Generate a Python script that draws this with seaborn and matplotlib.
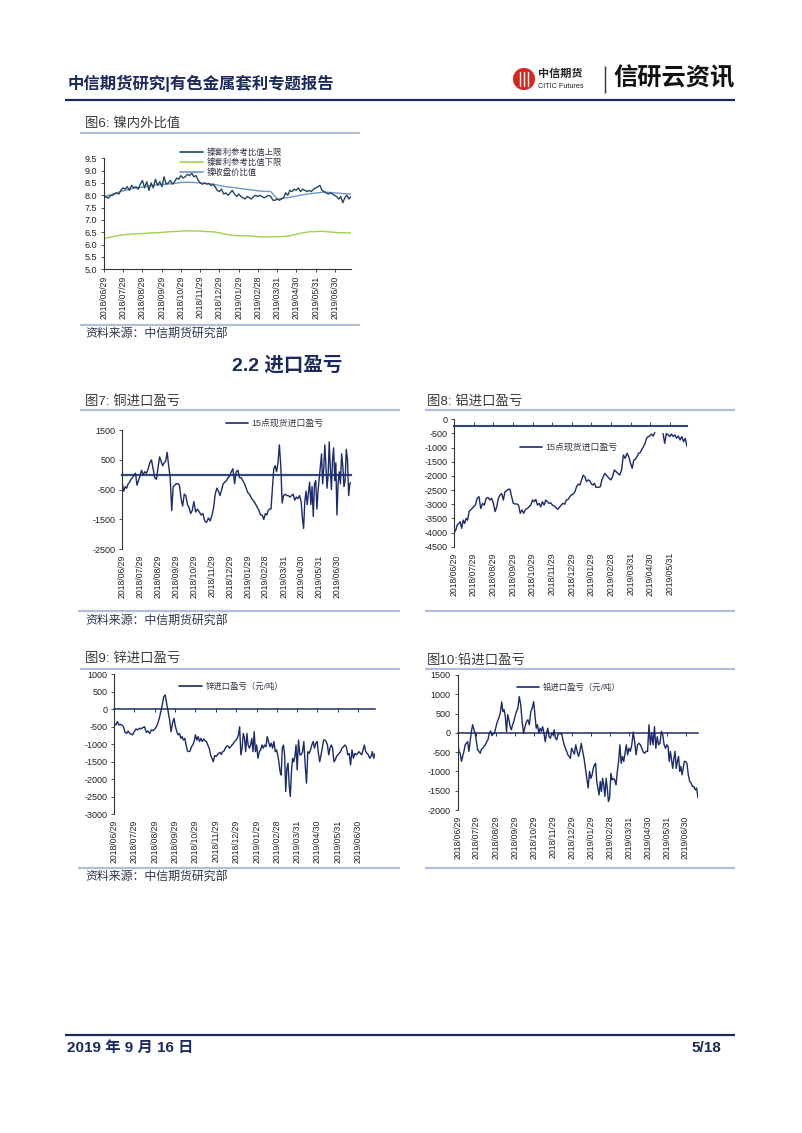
import numpy as np
import pandas as pd
import matplotlib
matplotlib.use("Agg")
import matplotlib.pyplot as plt
import matplotlib.dates as mdates
from matplotlib.lines import Line2D
from matplotlib.patches import Circle
import seaborn as sns

# ---------------------------------------------------------------- data
month_labels = ["2018/06/29", "2018/07/29", "2018/08/29", "2018/09/29", "2018/10/29",
                "2018/11/29", "2018/12/29", "2019/01/29", "2019/02/28", "2019/03/31",
                "2019/04/30", "2019/05/31", "2019/06/30"]
al_month_labels = month_labels[:12]
start_date = "2018/06/29"
ni_end, cu_end, al_end, zn_end, pb_end = "2019/07/26", "2019/07/24", "2019/06/27", "2019/07/26", "2019/07/20"

# values grouped by month (between two consecutive date labels)
ni_upper = [
    [7.90, 7.95, 7.88, 7.98, 8.00, 8.05, 8.10, 8.05, 8.20],
    [8.30, 8.25, 8.35, 8.20, 8.40, 8.30, 8.35, 8.25, 8.45],
    [8.60, 8.30, 8.55, 8.20, 8.50, 8.30, 8.65, 8.40, 8.55],
    [8.35, 8.75, 8.45, 8.50, 8.60, 8.45, 8.55, 8.70, 8.65],
    [8.80, 8.70, 8.75, 8.85, 8.80, 8.90, 8.75, 8.80, 8.60],
    [8.50, 8.45, 8.50, 8.45, 8.48, 8.40, 8.45, 8.35, 8.20],
    [8.15, 8.25, 8.05, 8.10, 8.00, 8.10, 8.20, 8.05, 7.95],
    [8.05, 7.95, 7.90, 7.85, 7.95, 7.90, 7.85, 7.95, 8.00],
    [7.95, 8.00, 7.95, 7.90, 7.95, 8.00, 7.95, 7.80, 7.80],
    [7.85, 7.80, 7.85, 7.90, 8.10, 8.00, 8.20, 8.15, 8.25],
    [8.20, 8.30, 8.15, 8.25, 8.20, 8.15, 8.20, 8.15, 8.25],
    [8.30, 8.35, 8.40, 8.20, 8.15, 8.10, 8.05, 8.10, 8.05],
    [8.00, 7.95, 7.85, 7.95, 7.70, 7.90, 8.00, 7.85, 7.95],
]
ni_lower = [
    [6.25, 6.30, 6.36], [6.40, 6.42, 6.44], [6.45, 6.47, 6.48], [6.50, 6.52, 6.53],
    [6.55, 6.56, 6.55], [6.55, 6.53, 6.52], [6.48, 6.42, 6.38], [6.36, 6.36, 6.35],
    [6.32, 6.31, 6.32], [6.32, 6.33, 6.36], [6.42, 6.48, 6.52], [6.53, 6.54, 6.52],
    [6.50, 6.48, 6.48, 6.47],
]
ni_close = [
    [7.95, 8.02, 8.10], [8.18, 8.25, 8.30], [8.33, 8.38, 8.42], [8.44, 8.46, 8.48],
    [8.52, 8.53, 8.52], [8.50, 8.48, 8.45], [8.40, 8.35, 8.32], [8.28, 8.25, 8.22],
    [8.18, 8.16, 8.15], [7.85, 7.88, 7.92], [7.97, 8.02, 8.06], [8.09, 8.12, 8.12],
    [8.10, 8.08, 8.06, 8.05],
]

cu_profit = [
    [-300, -550, -400, -450, -300, -250, -150, -100, 0, 50, -350, -200],
    [-50, 150, 0, 100, 50, 200, 400, 500, 200, -100, -150],
    [250, 600, 450, 300, 400, 450, 750, 300, -100, -1200, -400, -350],
    [-300, -300, -350, -800, -1050, -650, -700, -1000, -1100, -1300, -1200],
    [-900, -1250, -1150, -1250, -1350, -1300, -1550, -1600, -1450, -1550],
    [-1350, -1100, -650, -450, -550, -700, -500, -300, -250, -200, -100],
    [-50, 100, 200, -300, 100, 150, -100, -100, -200, -300, -450],
    [-600, -650, -750, -850, -900, -1000, -1100, -1200, -1350, -1350, -1500],
    [-1300, -1350, -1200, -1150, -1150, -500, 200, 300, 100, 400, 1000, 300, -950],
    [-700, -650, -700, -700, -750, -700, -650, -850, -750, -800, -700],
    [-900, -1450, -1800, -900, -550, -1000, -600, -250, -1000, -400, -1400, -300, -200, -1150, -500],
    [-100, 300, 700, -300, 200, 1000, 300, -450, 0, 1100, 200, -500, 500, 900, -200, 400],
    [-1350, -300, 100, -300, 700, 300, -400, -200, 850, 500, -700, -300, -250],
]

al_profit = [
    [-4000, -3910, -3730, -3680, -3620, -3850, -3560, -3680, -3500, -3560, -3260, -3200, -3150],
    [-3090, -3030, -2790, -2730, -3150, -2970, -3030, -2790, -2760, -2850, -2790],
    [-2970, -3260, -3090, -2790, -2670, -2620, -2850, -2560, -2520, -2470, -2470, -2730],
    [-2970, -2990, -2990, -3030, -3320, -3200, -3320, -3180, -3150, -3090, -3030],
    [-2850, -2910, -2830, -3030, -2970, -3090, -2910, -3030, -2850, -2910, -2970, -2950],
    [-3030, -3060, -3110, -3180, -3110, -3030, -2970, -3000, -2850, -2830, -2730],
    [-2670, -2640, -2560, -2380, -2290, -2320, -2140, -1970, -2030, -2200, -2140, -2170],
    [-2290, -2320, -2260, -2400, -2400, -2400, -2380, -2140, -2030, -1910, -1970, -2030, -2090],
    [-2140, -2030, -1790, -1850, -1910, -1970, -1790, -1260, -1380, -1200, -1320],
    [-1560, -1730, -1440, -1410, -1320, -1200, -1180, -1060, -970, -850, -670, -610],
    [-590, -520, -590, -470, np.nan, np.nan, np.nan, np.nan, -500, -850, -500, -550],
    [-610, -520, -610, -550, -670, -590, -730, -610, -790, -670, -970],
]

zn_profit = [
    [-400, -450, -350, -450, -430, -450, -500, -660, -690, -620, -690, -710, -730],
    [-640, -560, -590, -540, -560, -520, -500, -660, -620, -690, -590, -610],
    [-560, -500, -400, -260, -70, 120, 360, 410, 170, -70, -300, -640, -400, -260],
    [-500, -640, -730, -690, -830, -780, -880, -830, -1020, -1190, -1210, -1190, -1070, -1020, -920],
    [-730, -880, -780, -920, -830, -920, -850, -900, -920, -1020, -1110, -1300, -1400, -1500, -1320],
    [-1350, -1300, -1260, -1230, -1290, -1210, -1190, -1110, -1050, -1050, -1110, -1070, -1020, -980, -920],
    [-880, -830, -730, -500, -1300, -1110, -690, -830, -1210, -690, -1020, -1110, -1020, -830, -1210, -640, -1210],
    [-1020, -1400, -1210, -1160, -1020, -1110, -1020, -1070, -780, -920, -1070, -970, -1110, -920, -1210],
    [-1160, -1300, -1500, -1780, -1880, -1110, -1020, -1300, -2350, -1690, -1540, -2160, -2490, -1780, -1400, -1500, -1350, -1020],
    [-1730, -880, -1300, -1300, -1210, -920, -1590, -2110, -1210, -1260, -1160, -1020, -920, -1110, -970],
    [-920, -1260, -1500, -1300, -1110, -880, -880, -920, -1020, -1300, -1110, -1020, -1110, -1500, -1450, -1350],
    [-1300, -1260, -1210, -1110, -1070, -1020, -1070, -1300, -1260, -1590, -1160, -1400, -1260, -1300],
    [-1260, -1210, -1260, -1300, -1160, -1020, -1210, -1260, -1300, -1400, -1350, -1210, -1400, -1260],
]

pb_profit = [
    [-230, -480, -530, -740, -610, -480, -310, -270, -230, -480, -230, 40, 210, 80, -10],
    [-230, -440, -480, -530, -420, -400, -350, -310, -230, -180, -10, 50, -70, -30, -10],
    [120, 250, 340, 420, 550, 800, 550, 600, 420, 30, 470, 340, 160, 80, 210, 290],
    [420, 550, 640, 940, 730, 290, -10, 160, 290, 340, 210, 550, 640],
    [810, 470, 120, 210, -10, 120, 40, 160, -10, -230, -10, 120, -100, -140, -10],
    [-50, 80, -140, -180, -50, -10, -30, -10, -180, -310, -400, -480, -570, -610, -660],
    [-400, -480, -550, -310, -480, -610, -480, -270, -480, -660, -920, -1180, -1430, -1000],
    [-1180, -1090, -920, -830, -790, -1260, -1430, -1610, -1260, -1520, -1180, -1350, -1650, -1180, -1430, -1780],
    [-1690, -1050, -1220, -1180, -1220, -1350, -1000, -740, -310, -790, -610, -740, -530, -310, -570],
    [-400, -480, -310, 20, -230, -570, -310, -270, -310, -400, -500, -530, -480],
    [-480, 210, -310, -10, -310, 160, -400, -100, -310, -270, 40, -50, -310, -400],
    [-310, -350, -740, -480, -700, -920, -660, -480, -920, -740, -610, -1000, -870, -1090, -920, -740],
    [-740, -790, -1090, -1260, -1300, -1390, -1390, -1480, -1430, -1690],
]

ni_yticks = [5.0, 5.5, 6.0, 6.5, 7.0, 7.5, 8.0, 8.5, 9.0, 9.5]
ni_ylabels = ["5.0", "5.5", "6.0", "6.5", "7.0", "7.5", "8.0", "8.5", "9.0", "9.5"]
cu_yticks = [1500, 500, -500, -1500, -2500]
cu_ylabels = ["1500", "500", "-500", "-1500", "-2500"]
al_yticks = [0, -500, -1000, -1500, -2000, -2500, -3000, -3500, -4000, -4500]
al_ylabels = ["0", "-500", "-1000", "-1500", "-2000", "-2500", "-3000", "-3500", "-4000", "-4500"]
zn_yticks = [1000, 500, 0, -500, -1000, -1500, -2000, -2500, -3000]
zn_ylabels = ["1000", "500", "0", "-500", "-1000", "-1500", "-2000", "-2500", "-3000"]
pb_yticks = [1500, 1000, 500, 0, -500, -1000, -1500, -2000]
pb_ylabels = ["1500", "1000", "500", "0", "-500", "-1000", "-1500", "-2000"]

ni_legend = ["镍套利参考比值上限", "镍套利参考比值下限", "镍收盘价比值"]
cu_legend = "15点现货进口盈亏"
al_legend = "15点现货进口盈亏"
zn_legend = "锌进口盈亏（元/吨）"
pb_legend = "铅进口盈亏（元/吨）"

header_text = "中信期货研究|有色金属套利专题报告"
section_text = "2.2 进口盈亏"
titles = ["图6: 镍内外比值", "图7: 铜进口盈亏", "图8: 铝进口盈亏", "图9: 锌进口盈亏", "图10:铅进口盈亏"]
source_text = "资料来源：中信期货研究部"
footer_date = "2019 年 9 月 16 日"
footer_page = "5/18"

# ---------------------------------------------------------------- style
sns.set_theme(style="white")
plt.rcParams['font.family'] = ['Liberation Sans', 'Noto Sans CJK SC', 'DejaVu Sans']
plt.rcParams['axes.unicode_minus'] = False

W, H = 802, 1133
fig = plt.figure(figsize=(W / 100, H / 100), dpi=100)
fig.patch.set_facecolor("white")

NAVY = "#1b2a5c"
SERIES = "#1c2b6b"
AXIS = "#333333"
LIGHT = "#b3bfd6"
TXT = "#222222"


def fig_line(x0, x1, y0, y1, color, lw):
    fig.add_artist(Line2D([x0 / W, x1 / W], [1 - y0 / H, 1 - y1 / H],
                          transform=fig.transFigure, color=color, lw=lw, solid_capstyle="butt"))


def fig_text(x, y, s, **kw):
    fig.text(x / W, 1 - y / H, s, **kw)


def make_ax(l, r, t, b):
    return fig.add_axes([l / W, 1 - b / H, (r - l) / W, (b - t) / H])


def build(groups, labels, end):
    bounds = list(pd.to_datetime(labels[:len(groups)])) + [pd.Timestamp(end)]
    dates, vals = [], []
    for i, g in enumerate(groups):
        a, b = bounds[i], bounds[i + 1]
        n = len(g)
        fr = np.linspace(0, 1, n) if i == len(groups) - 1 else np.arange(n) / n
        dates += [a + (b - a) * f for f in fr]
        vals += list(g)
    df = pd.DataFrame({"date": dates, "value": vals})
    df["seg"] = df["value"].isna().cumsum()
    return df.dropna()


def draw(ax, groups, labels, end, color, lw=1.0):
    df = build(groups, labels, end)
    sns.lineplot(data=df, x="date", y="value", units="seg", estimator=None,
                 color=color, linewidth=lw, ax=ax, legend=False)


def style(ax, ylim, yticks, ylabels, xlabels, end):
    ax.set_xlim(pd.Timestamp(start_date), pd.Timestamp(end))
    ax.set_ylim(*ylim)
    ax.set_yticks(yticks)
    ax.set_yticklabels(ylabels)
    ax.set_xticks(pd.to_datetime(xlabels))
    ax.set_xticklabels(xlabels, rotation=90)
    for s in ["top", "right"]:
        ax.spines[s].set_visible(False)
    ax.spines["left"].set_color(AXIS)
    ax.spines["left"].set_linewidth(0.8)
    ax.spines["bottom"].set_color(AXIS)
    ax.spines["bottom"].set_linewidth(0.8)
    ax.tick_params(axis="y", left=True, direction="out", length=2.5, width=0.6,
                   color=AXIS, labelsize=6.5, pad=2.5, labelcolor=TXT)
    ax.tick_params(axis="x", bottom=True, length=0, labelsize=6.2, pad=4, labelcolor=TXT)
    ax.set_xlabel("")
    ax.set_ylabel("")
    ax.patch.set_visible(False)
    ax.grid(False)


def cross_axis(ax, yval, xlabels, color, lw, tick_dir, tick_len):
    ax.spines["bottom"].set_visible(False)
    sec = ax.secondary_xaxis(yval, transform=ax.transData)
    sec.set_xticks(mdates.date2num(pd.to_datetime(xlabels)))
    sec.tick_params(axis="x", bottom=True, labelbottom=False, direction=tick_dir,
                    length=tick_len, width=0.7, color=color)
    sec.spines["bottom"].set_color(color)
    sec.spines["bottom"].set_linewidth(lw)


def legend(ax, labels, colors, x, y, fs, hl, pad):
    handles = [Line2D([], [], color=c, lw=1.2) for c in colors]
    leg = ax.legend(handles, labels, loc="center left", bbox_to_anchor=(x / W, 1 - y / H),
                    bbox_transform=fig.transFigure, frameon=False, fontsize=fs,
                    handlelength=hl, handletextpad=pad, borderpad=0, borderaxespad=0,
                    labelspacing=0.22)
    for t in leg.get_texts():
        t.set_color("#333344")


# ---------------------------------------------------------------- page furniture
fig_text(68, 83, header_text, fontsize=11.8, fontweight="bold", color=NAVY, va="center", ha="left")
fig_line(65, 735, 100, 100, NAVY, 1.6)

logo_ax = fig.add_axes([(524 - 11) / W, 1 - (79 + 11) / H, 22 / W, 22 / H])
logo_ax.set_xlim(0, 1)
logo_ax.set_ylim(0, 1)
logo_ax.set_aspect("equal")
logo_ax.axis("off")
logo_ax.add_patch(Circle((0.5, 0.5), 0.47, color="#d7261e"))
for xx in (0.32, 0.5, 0.68):
    logo_ax.plot([xx, xx], [0.2, 0.8], color="white", lw=1.0)
fig_text(538, 74, "中信期货", fontsize=8, fontweight="bold", color="#222222", va="center", ha="left")
fig_text(538, 87, "CITIC Futures", fontsize=5.2, color="#222222", va="center", ha="left")
fig_line(605, 605, 66, 93, "#333333", 1.0)
fig_text(735, 78, "信研云资讯", fontsize=17.5, fontweight="bold", color="#111111", va="center", ha="right")

fig_text(287, 365, section_text, fontsize=14, fontweight="bold", color=NAVY, va="center", ha="center")

fig_line(65, 735, 1035, 1035, NAVY, 1.6)
fig_text(67, 1048, footer_date, fontsize=11, fontweight="bold", color=NAVY, va="center", ha="left")
fig_text(721, 1048, footer_page, fontsize=11, fontweight="bold", color=NAVY, va="center", ha="right")

# titles and rules
title_fs = 9.6
fig_text(85, 123, titles[0], fontsize=title_fs, color="#3a3a3a", va="center", ha="left")
fig_line(80, 360, 132.7, 132.7, LIGHT, 1.6)
fig_line(80, 360, 325, 325, LIGHT, 1.6)
fig_text(85, 334, source_text, fontsize=8.6, color="#2e3650", va="center", ha="left")

fig_text(85, 401, titles[1], fontsize=title_fs, color="#3a3a3a", va="center", ha="left")
fig_text(427, 401.5, titles[2], fontsize=title_fs, color="#3a3a3a", va="center", ha="left")
fig_line(80, 400, 410, 410, LIGHT, 1.6)
fig_line(425, 735, 410, 410, LIGHT, 1.6)
fig_line(78, 400, 611, 611, LIGHT, 1.6)
fig_line(425, 735, 611, 611, LIGHT, 1.6)
fig_text(85, 621, source_text, fontsize=8.6, color="#2e3650", va="center", ha="left")

fig_text(85, 659, titles[3], fontsize=title_fs, color="#3a3a3a", va="center", ha="left")
fig_text(427, 660, titles[4], fontsize=title_fs, color="#3a3a3a", va="center", ha="left")
fig_line(80, 400, 669, 669, LIGHT, 1.6)
fig_line(425, 735, 669, 669, LIGHT, 1.6)
fig_line(78, 400, 868, 868, LIGHT, 1.6)
fig_line(425, 735, 868, 868, LIGHT, 1.6)
fig_text(85, 877, source_text, fontsize=8.6, color="#2e3650", va="center", ha="left")

# ---------------------------------------------------------------- chart 6 nickel ratio
c_upper, c_lower, c_close = "#26475e", "#a3d050", "#7096c8"
ax6 = make_ax(104, 351, 158.3, 269.3)
draw(ax6, ni_lower, month_labels, ni_end, c_lower)
draw(ax6, ni_close, month_labels, ni_end, c_close)
draw(ax6, ni_upper, month_labels, ni_end, c_upper)
style(ax6, (5.0, 9.5), ni_yticks, ni_ylabels, month_labels, ni_end)
ax6.tick_params(axis="x", length=2, direction="out", width=0.6, color=AXIS, pad=2.5)
legend(ax6, ni_legend, [c_upper, c_lower, c_close], 180, 162.7, 6.0, 2.8, 0.35)

# ---------------------------------------------------------------- chart 7 copper
ax7 = make_ax(122.3, 351, 430, 549.3)
draw(ax7, cu_profit, month_labels, cu_end, SERIES)
style(ax7, (-2500, 1500), cu_yticks, cu_ylabels, month_labels, cu_end)
cross_axis(ax7, 0, month_labels, "#34497a", 1.6, "out", 0)
legend(ax7, [cu_legend], [SERIES], 225.7, 423.3, 6.4, 2.5, 0.4)

# ---------------------------------------------------------------- chart 8 aluminium
ax8 = make_ax(454.3, 687, 419.3, 546.7)
draw(ax8, al_profit, al_month_labels, al_end, SERIES)
style(ax8, (-4500, 0), al_yticks, al_ylabels, al_month_labels, al_end)
cross_axis(ax8, -230, al_month_labels, "#34497a", 1.5, "in", 3)
legend(ax8, [al_legend], [SERIES], 520, 447.3, 6.4, 2.5, 0.4)

# ---------------------------------------------------------------- chart 9 zinc
ax9 = make_ax(114.3, 375, 674.3, 814.3)
draw(ax9, zn_profit, month_labels, zn_end, SERIES)
style(ax9, (-3000, 1000), zn_yticks, zn_ylabels, month_labels, zn_end)
cross_axis(ax9, 0, month_labels, "#1f2d5e", 1.1, "out", 2.5)
legend(ax9, [zn_legend], [SERIES], 179.3, 686.7, 6.0, 2.7, 0.5)

# ---------------------------------------------------------------- chart 10 lead
ax10 = make_ax(457.7, 698, 675, 810)
draw(ax10, pb_profit, month_labels, pb_end, SERIES)
style(ax10, (-2000, 1500), pb_yticks, pb_ylabels, month_labels, pb_end)
cross_axis(ax10, 0, month_labels, "#1f2d5e", 1.1, "out", 2.5)
legend(ax10, [pb_legend], [SERIES], 516.7, 687.3, 6.0, 2.7, 0.4)

fig.savefig("out.png", dpi=100, facecolor="white")
